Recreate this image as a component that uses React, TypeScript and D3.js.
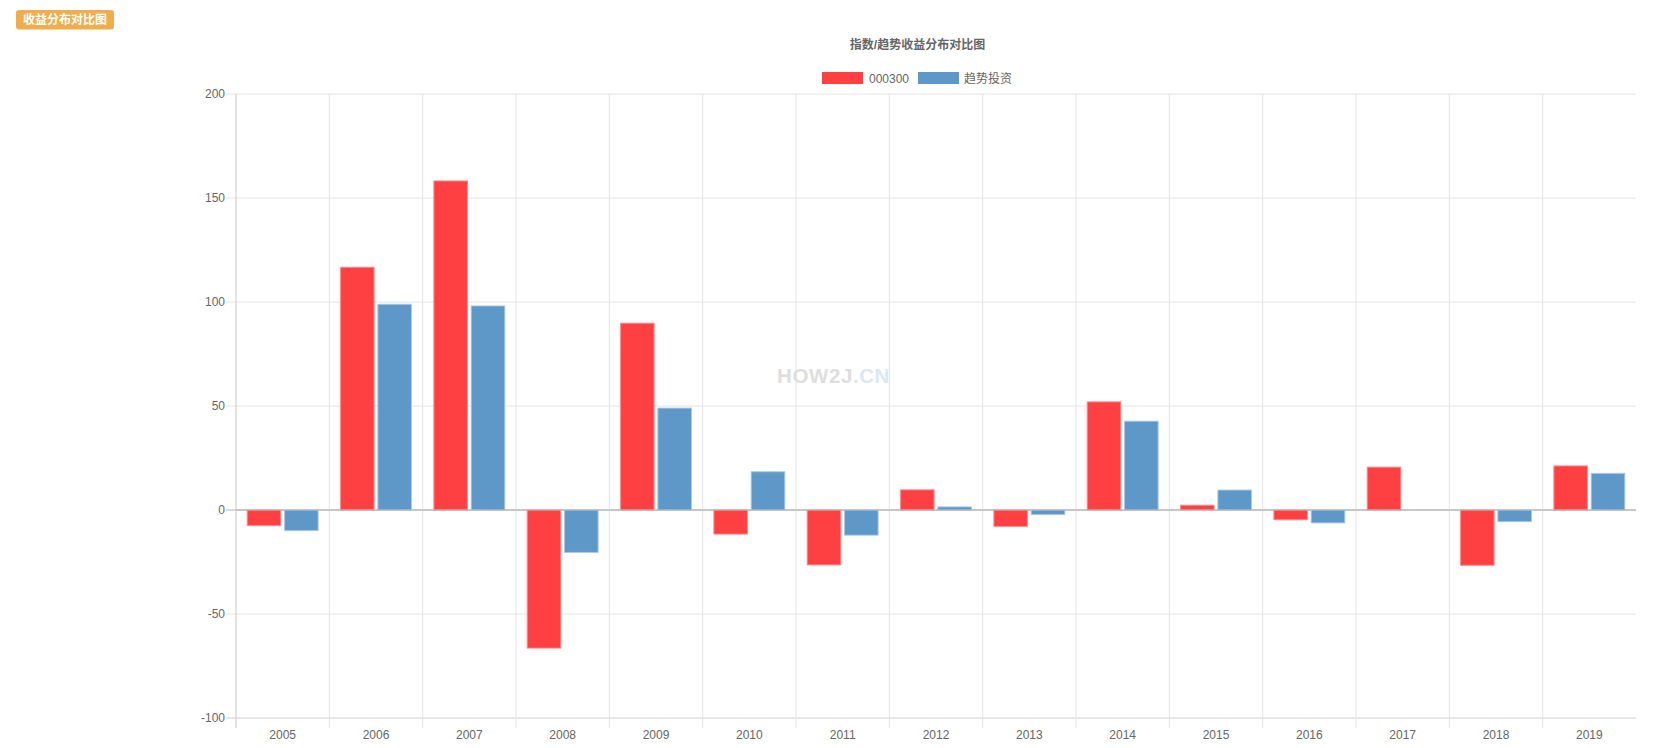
import React from "react";
import * as d3 from "d3";

const years = ["2005","2006","2007","2008","2009","2010","2011","2012","2013","2014","2015","2016","2017","2018","2019"];
const indexValues = [-7.5, 116.7, 158.2, -66.4, 89.8, -11.6, -26.4, 9.7, -7.9, 52.0, 2.3, -4.7, 20.6, -26.6, 21.2];
const trendValues = [-9.9, 98.9, 98.1, -20.4, 49.0, 18.4, -12.1, 1.5, -2.2, 42.7, 9.6, -6.2, 0, -5.6, 17.6];
const yTicks = [-100, -50, 0, 50, 100, 150, 200];
const seriesNames = ["000300", "趋势投资"];

const W = 1665, H = 748;
const left = 236, right = 1636, top = 94, bottom = 718;
const FONT = "'Liberation Sans', Arial, 'Noto Sans CJK SC', sans-serif";

export default function App() {
  const x = d3.scaleBand<string>().domain(years).range([left, right]).paddingInner(0).paddingOuter(0);
  const y = d3.scaleLinear().domain([-100, 200]).range([bottom, top]);
  const cw = x.bandwidth();
  const sub = d3.scaleBand<string>().domain(["a", "b"]).range([cw * 0.1, cw * 0.9]).paddingInner(0.1).paddingOuter(0.05);
  const bw = sub.bandwidth();
  const series = [
    { key: "a", values: indexValues, fill: "#ff4043", stroke: "rgba(255,140,140,0.9)" },
    { key: "b", values: trendValues, fill: "#5e98c8", stroke: "rgba(170,200,230,0.9)" },
  ];
  const cx = 917.5;
  return (
    <svg width={W} height={H} style={{ position: "absolute", left: 0, top: 0, fontFamily: FONT }}>
      <rect x={16} y={10} width={98} height={19.5} rx={3} fill="#f0ad4e" />
      <text x={65} y={24} textAnchor="middle" fontSize={12} fontWeight="bold" fill="#fff">收益分布对比图</text>

      <text x={cx} y={49} textAnchor="middle" fontSize={12} fontWeight="bold" fill="#666">指数/趋势收益分布对比图</text>

      {/* legend */}
      <rect x={822} y={72} width={41} height={12} fill={series[0].fill} />
      <text x={869} y={82.5} fontSize={12} fill="#666">{seriesNames[0]}</text>
      <rect x={918} y={72} width={41} height={12} fill={series[1].fill} />
      <text x={964} y={82.5} fontSize={12} fill="#666">{seriesNames[1]}</text>

      {/* horizontal grid */}
      {yTicks.map((t) => (
        <g key={t}>
          <line x1={left - 10} x2={right} y1={y(t)} y2={y(t)}
            stroke={t === 0 ? "#b4b4b4" : t === -100 ? "#d0d0d0" : "#e4e4e4"} strokeWidth={1} />
          <text x={left - 11} y={y(t) + 4} textAnchor="end" fontSize={12} fill="#666">{t}</text>
        </g>
      ))}

      {/* vertical grid */}
      {years.map((yr, i) => (
        <line key={yr} x1={x(yr)!} x2={x(yr)!} y1={top} y2={bottom + 10}
          stroke={i === 0 ? "#c8c8c8" : "#e4e4e4"} strokeWidth={1} />
      ))}

      {/* watermark */}
      <text x={777} y={383} fontSize={20.5} fontWeight="bold" fill="#dedede" style={{ letterSpacing: "0.6px" }}>
        HOW2J<tspan fill="#dbe7f3">.CN</tspan>
      </text>

      {/* bars */}
      {series.map((s) =>
        s.values.map((v, i) => {
          if (v === 0) return null;
          const bx = x(years[i])! + sub(s.key)!;
          const y0 = y(0), y1 = y(v);
          return (
            <rect key={s.key + i} x={bx} y={Math.min(y0, y1)} width={bw} height={Math.abs(y1 - y0)}
              fill={s.fill} stroke={s.stroke} strokeWidth={1} />
          );
        })
      )}

      {/* zero line on top */}
      <line x1={left} x2={right} y1={y(0)} y2={y(0)} stroke="#b4b4b4" strokeWidth={1} />

      {/* x labels */}
      {years.map((yr) => (
        <text key={yr} x={x(yr)! + cw / 2} y={739} textAnchor="middle" fontSize={12} fill="#666">{yr}</text>
      ))}
    </svg>
  );
}
